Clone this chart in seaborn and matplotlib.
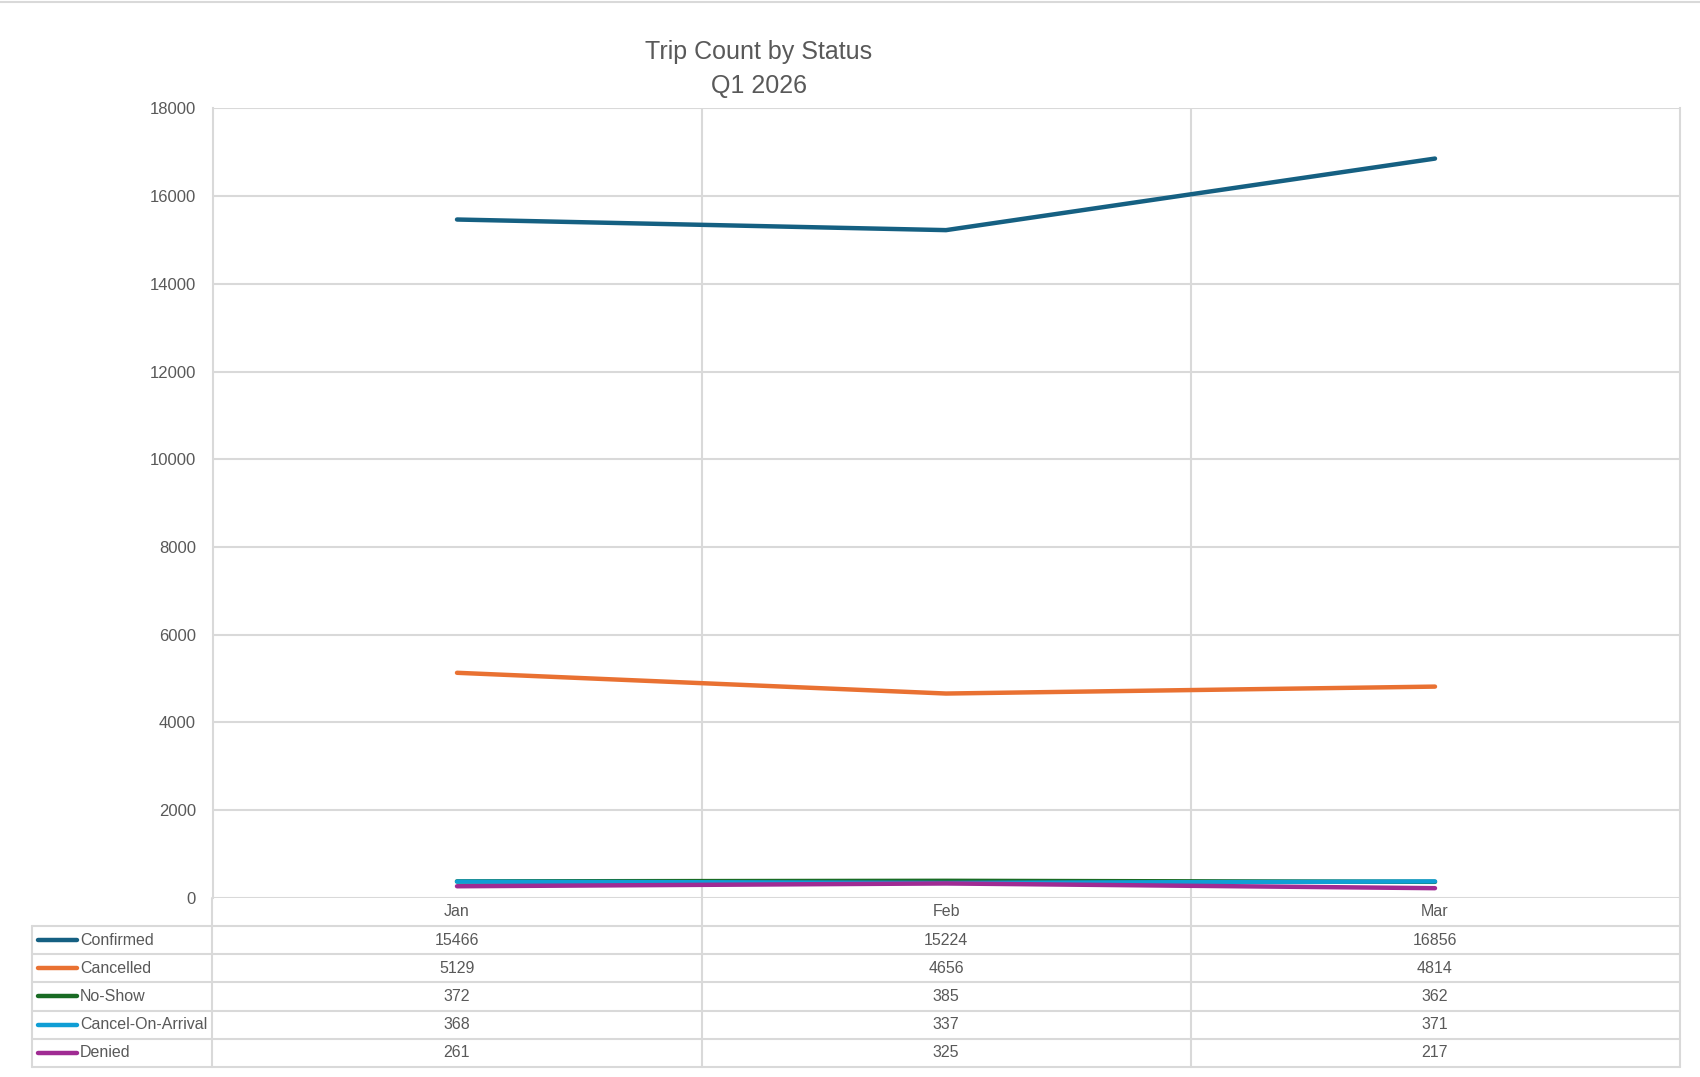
import matplotlib
matplotlib.use("Agg")
import matplotlib.pyplot as plt
import numpy as np
import pandas as pd
import seaborn as sns
from matplotlib.lines import Line2D

months = ["Jan", "Feb", "Mar"]
statuses = ["Confirmed", "Cancelled", "No-Show", "Cancel-On-Arrival", "Denied"]
confirmed = [15466, 15224, 16856]
cancelled = [5129, 4656, 4814]
no_show = [372, 385, 362]
cancel_on_arrival = [368, 337, 371]
denied = [261, 325, 217]
colors = ["#156082", "#E97132", "#196B24", "#0F9ED5", "#A02B93"]

series = [confirmed, cancelled, no_show, cancel_on_arrival, denied]
df = pd.DataFrame(
    [(s, i, v) for s, vals in zip(statuses, series) for i, v in enumerate(vals)],
    columns=["Status", "MonthIdx", "Trips"],
)
palette = dict(zip(statuses, colors))

sns.set_theme(style="white")
plt.rcParams["font.family"] = ["Liberation Sans", "DejaVu Sans"]

grid_c = "#D9D9D9"
text_c = "#595959"
W, H = 1700, 1077

fig = plt.figure(figsize=(17, 10.77), dpi=100)
fig.patch.set_facecolor("white")

left, right, top, bottom = 212.5, 1679.5, 108.4, 897.7
ax = fig.add_axes([left / W, 1 - bottom / H, (right - left) / W, (bottom - top) / H])

sns.lineplot(
    data=df, x="MonthIdx", y="Trips", hue="Status", hue_order=statuses,
    palette=palette, linewidth=3.2, legend=False, ax=ax,
    solid_capstyle="round", zorder=3,
)

ax.set_xlim(-0.5, 2.5)
ax.set_ylim(0, 18000)
ax.set_yticks(np.arange(0, 18001, 2000))
ax.set_xticks([0, 1, 2])
ax.set_xticklabels([])
ax.set_xticks([0.5, 1.5], minor=True)
ax.grid(True, axis="y", color=grid_c, linewidth=1.5)
ax.grid(True, axis="x", which="minor", color=grid_c, linewidth=1.5)
ax.set_axisbelow(True)
ax.tick_params(axis="both", which="both", length=0)
ax.tick_params(axis="y", pad=12, labelsize=12, labelcolor=text_c)
ax.set_xlabel("")
ax.set_ylabel("")
for side in ["top", "bottom"]:
    ax.spines[side].set_visible(False)
for side in ["left", "right"]:
    ax.spines[side].set_color(grid_c)
    ax.spines[side].set_linewidth(1.5)

# data table below the plot
tab_left, tab_bottom = 32.5, 1067.0
tax = fig.add_axes([tab_left / W, 1 - tab_bottom / H, (right - tab_left) / W, (tab_bottom - bottom) / H])
unit = (right - left) / 3
x0 = -0.5 - (left - tab_left) / unit
tax.set_xlim(x0, 2.5)
tax.set_ylim(6, 0)
tax.axis("off")

for y in range(1, 7):
    tax.plot([x0, 2.5], [y, y], color=grid_c, lw=1.5, clip_on=False)
for x in [-0.5, 0.5, 1.5, 2.5]:
    tax.plot([x, x], [0, 6], color=grid_c, lw=1.5, clip_on=False)
tax.plot([x0, x0], [1, 6], color=grid_c, lw=1.5, clip_on=False)

fs = 11.5
for i, m in enumerate(months):
    tax.text(i, 0.5, m, ha="center", va="center", fontsize=fs, color=text_c)

for r, (name, vals, c) in enumerate(zip(statuses, series, colors)):
    yc = r + 1.5
    tax.plot([x0 + 0.011, x0 + 0.09], [yc, yc], color=c, lw=3.2,
             solid_capstyle="round", clip_on=False)
    tax.text(x0 + 0.097, yc, name, ha="left", va="center", fontsize=fs, color=text_c)
    for i, v in enumerate(vals):
        tax.text(i, yc, str(v), ha="center", va="center", fontsize=fs, color=text_c)

fig.text(759 / W, 1 - 52 / H, "Trip Count by Status", ha="center", va="center",
         fontsize=18, color=text_c)
fig.text(759 / W, 1 - 86 / H, "Q1 2026", ha="center", va="center",
         fontsize=18, color=text_c)

fig.add_artist(Line2D([0, 1], [1 - 1.5 / H, 1 - 1.5 / H], color=grid_c, lw=1.5))

fig.savefig("out.png", dpi=100, facecolor="white")
